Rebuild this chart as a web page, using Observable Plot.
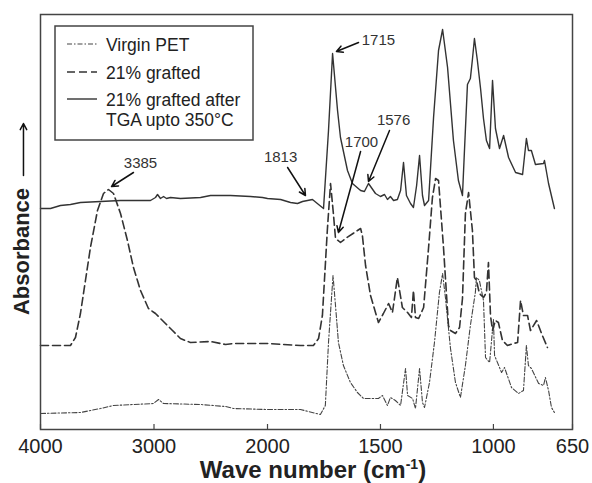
<!DOCTYPE html>
<html><head><meta charset="utf-8">
<script src="https://cdn.jsdelivr.net/npm/d3@7"></script>
<script src="https://cdn.jsdelivr.net/npm/@observablehq/plot@0.6"></script>
<style>
body{margin:0;background:#fff;}
#chart{width:592px;height:483px;}
svg{font-family:"Liberation Sans",Arial,Helvetica,sans-serif;}
</style>
</head><body><div id="chart"></div>
<script>
// ---- data (wave number in cm-1, absorbance in arbitrary units) ----
const seriesNames = ["Virgin PET", "21% grafted", "21% grafted after", "TGA upto 350°C"];

const virginW = [4000,3648,3471,3357,3181,3005,2960,2916,2590,2370,2300,2000,1854,1766,1744,1730,1710,1699,1686,1664,1633,1602,1575,1535,1509,1491,1469,1456,1434,1411,1389,1380,1358,1345,1327,1314,1305,1283,1261,1239,1225,1212,1190,1168,1146,1124,1102,1080,1075,1062,1044,1035,1017,1000,995,964,951,920,889,867,854,845,832,800,778,770,756,743,730];
const virginA = [16,17,21,24,25,26,30,26,25,23,21,20,20,15,24,87,154,124,87,64,47,37,31,31,31,34,24,32,29,24,61,34,31,21,61,27,22,47,87,137,156,131,81,47,32,64,104,137,152,149,129,72,67,110,74,57,62,42,36,39,84,64,61,46,44,52,39,22,17];

const graftW = [4000,3736,3692,3648,3604,3560,3498,3445,3401,3357,3295,3234,3181,3119,3049,2987,2943,2899,2837,2767,2679,2502,2370,2300,2000,1854,1797,1774,1757,1735,1721,1708,1699,1677,1655,1588,1580,1566,1544,1522,1509,1487,1464,1447,1425,1403,1380,1363,1354,1345,1331,1309,1287,1270,1256,1243,1221,1199,1190,1168,1150,1137,1124,1110,1093,1084,1075,1062,1044,1031,1022,1013,1004,991,978,960,938,911,893,880,867,849,836,809,787,761];
const graftA = [84,84,92,116,149,182,219,236,240,236,216,189,162,139,121,116,111,106,99,91,87,88,85,86,86,84,84,91,114,200,246,215,191,187,191,201,194,164,134,117,107,116,126,117,152,122,117,112,139,112,111,122,182,232,251,249,182,104,99,96,102,131,216,237,199,152,149,136,132,137,167,114,99,109,107,89,84,86,87,129,114,114,99,109,96,82];

const tgaW = [4000,3912,3824,3736,3648,3471,3295,3031,2987,2969,2943,2916,2890,2855,2767,2590,2502,2326,2150,2044,2000,1942,1898,1867,1845,1801,1774,1752,1730,1712,1690,1677,1646,1624,1588,1571,1553,1522,1500,1482,1469,1456,1442,1425,1411,1398,1385,1367,1354,1340,1327,1314,1305,1287,1265,1243,1225,1203,1177,1155,1137,1128,1115,1102,1093,1084,1071,1057,1044,1031,1017,1004,991,973,955,933,902,871,854,845,832,814,778,774,756,730];
const tgaA = [221,221,224,225,227,228,229,229,232,235,231,233,231,232,231,232,234,234,233,232,231,230,227,226,228,230,225,221,299,376,319,292,259,246,239,238,246,236,233,235,230,233,229,230,239,267,234,226,222,244,274,234,224,229,312,379,400,362,289,249,234,280,345,351,370,391,369,341,311,289,281,349,301,281,294,272,257,255,291,279,279,265,266,269,246,221];

const xTicks = [4000, 3000, 2000, 1500, 1000, 650];

const annLabels = ["3385", "1813", "1715", "1576", "1700"];
const annTextW  = [3119, 1942, 1509, 1442, 1584];
const annTextA  = [266, 272, 389, 309, 287];
const arrFromW  = [3181, 1911, 1597, 1460, 1588];
const arrFromA  = [257, 262, 387, 299, 278];
const arrToW    = [3374, 1832, 1695, 1553, 1686];
const arrToA    = [243, 234, 378, 248, 197];

const yLabel = "Absorbance";
const xLabel = ["Wave number (cm", "-1", ")"];

// ---- build tables ----
const toRows = (W, A) => W.map((w, i) => ({w, a: A[i]}));
const virgin = toRows(virginW, virginA);
const graft = toRows(graftW, graftA);
const tga = toRows(tgaW, tgaA);
const ann = annLabels.map((t, i) => ({t, w: annTextW[i], a: annTextA[i], w1: arrFromW[i], a1: arrFromA[i], w2: arrToW[i], a2: arrToA[i]}));

// the axis is compressed by a factor of ~2 above 2000 cm-1 (scale break)
const breakAt = 2000, squeeze = 0.5024;
const xt = w => w > breakAt ? breakAt + (w - breakAt) * squeeze : w;

const font = '"Liberation Sans", Arial, sans-serif';
const ink = "#333";
const styles = [
  {stroke: "#444", strokeWidth: 1.1, strokeDasharray: "5,2,1.5,2"},
  {stroke: ink, strokeWidth: 1.6, strokeDasharray: "8,4"},
  {stroke: ink, strokeWidth: 1.4}
];

const chart = Plot.plot({
  width: 592, height: 483,
  marginLeft: 40, marginRight: 20, marginTop: 14, marginBottom: 54,
  style: {fontFamily: font, fontSize: "20px", color: "#222", background: "#fff"},
  x: {type: "linear", transform: xt, domain: [xt(4000), xt(650)], axis: null},
  y: {domain: [0, 415], axis: null},
  marks: [
    Plot.line(virgin, {x: "w", y: "a", ...styles[0]}),
    Plot.line(graft, {x: "w", y: "a", ...styles[1]}),
    Plot.line(tga, {x: "w", y: "a", ...styles[2]}),
    Plot.ruleX(xTicks, {x: d => d, y1: 0, y2: 5, stroke: "#444", strokeWidth: 1.2}),
    Plot.frame({stroke: "#444", strokeWidth: 1.5}),
    Plot.axisX(xTicks, {tickSize: 0, tickPadding: 9, fontSize: 20, fontFamily: font, tickFormat: d => String(d), fill: "#222"}),
    Plot.arrow(ann, {x1: "w1", y1: "a1", x2: "w2", y2: "a2", stroke: "#111", strokeWidth: 1.5, headLength: 7, headAngle: 55}),
    Plot.text(ann, {x: "w", y: "a", text: "t", fontSize: 15, fontFamily: font, fill: "#333"}),
    Plot.text([yLabel], {x: 4159, y: 178, text: d => d, rotate: -90, fontSize: 22, fontFamily: font, fontWeight: "bold", fill: "#222"}),
    Plot.arrow([0], {x1: 4150, y1: 254, x2: 4150, y2: 306, stroke: "#111", strokeWidth: 1.5, headLength: 7, headAngle: 55})
  ]
});
document.getElementById("chart").appendChild(chart);

// ---- x-axis title with superscript ----
const svg = d3.select(chart);
const t = svg.append("text").attr("x", 313).attr("y", 478).attr("text-anchor", "middle")
  .attr("font-family", font).attr("font-size", 24).attr("font-weight", "bold").attr("fill", "#222");
t.append("tspan").text(xLabel[0]);
t.append("tspan").attr("dy", -9).attr("font-size", 14).text(xLabel[1]);
t.append("tspan").attr("dy", 9).text(xLabel[2]);

// ---- legend ----
const lg = svg.append("g").attr("text-anchor", "start");
lg.append("rect").attr("x", 55).attr("y", 26).attr("width", 198).attr("height", 114)
  .attr("fill", "#fff").attr("stroke", "#444").attr("stroke-width", 1.5);
const rowsY = [44, 72, 99];
rowsY.forEach((y, i) => {
  const s = styles[i];
  lg.append("line").attr("x1", 67).attr("x2", 97).attr("y1", y).attr("y2", y)
    .attr("stroke", s.stroke).attr("stroke-width", s.strokeWidth)
    .attr("stroke-dasharray", s.strokeDasharray || null);
});
const textBase = [51, 79, 106, 126];
seriesNames.forEach((n, i) => {
  lg.append("text").attr("x", 106).attr("y", textBase[i]).attr("font-size", 17.5)
    .attr("font-family", font).attr("text-anchor", "start").attr("fill", "#222").text(n);
});
</script>
</body></html>
